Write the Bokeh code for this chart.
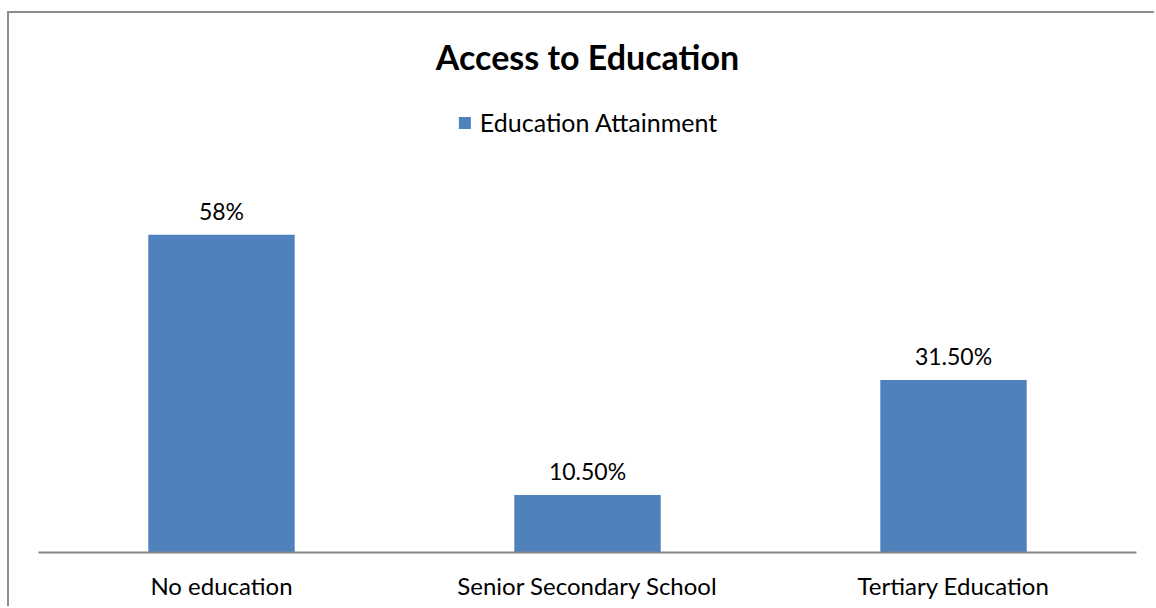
from bokeh.plotting import figure
from bokeh.models import ColumnDataSource, Legend, LegendItem, Range1d
from bokeh.embed import file_html
from bokeh.resources import INLINE
from bokeh.core.properties import value

categories = ["No education", "Senior Secondary School", "Tertiary Education"]
values = [58, 10.5, 31.5]
labels = ["58%", "10.50%", "31.50%"]
series_name = "Education Attainment"
title_text = "Access to Education"

FONT = "Lato"
BAR = "#4f81bd"
AXIS = "#868686"

src = ColumnDataSource(dict(cat=categories, val=values, lab=labels))

p = figure(x_range=categories, y_range=Range1d(0, 83.8), width=1147, height=595,
           output_backend="svg", toolbar_location=None,
           min_border_left=29, min_border_right=20, min_border_top=80,
           min_border_bottom=56, margin=(11, 0, 0, 7),
           styles={"border-left": "2px solid #8c8c8c", "border-top": "2px solid #8c8c8c"})

r = p.vbar(x="cat", top="val", width=0.4, source=src, fill_color=BAR, line_color=None)
p.text(x="cat", y="val", text="lab", source=src, text_align="center",
       text_baseline="bottom", y_offset=-10, text_font=value(FONT),
       text_font_size="23px", text_color="#000000")

p.title.text = title_text
p.title.align = "center"
p.title.text_font = FONT
p.title.text_font_size = "34px"
p.title.text_font_style = "bold"
p.title.text_color = "#000000"
p.title.standoff = 33

legend = Legend(items=[LegendItem(label=series_name, renderers=[r])],
                orientation="horizontal", location="top_center",
                label_text_font=FONT, label_text_font_size="25px",
                label_text_color="#000000",
                glyph_width=15, glyph_height=15, label_height=20, label_standoff=8,
                padding=0, spacing=0,
                border_line_color=None, background_fill_alpha=0, margin=14)
p.add_layout(legend)

p.yaxis.visible = False
p.xgrid.visible = False
p.ygrid.visible = False
p.outline_line_color = None
p.xaxis.axis_line_color = AXIS
p.xaxis.axis_line_width = 2
p.xaxis.major_tick_line_color = None
p.xaxis.minor_tick_line_color = None
p.xaxis.major_label_text_font = FONT
p.xaxis.major_label_text_font_size = "24px"
p.xaxis.major_label_text_color = "#000000"
p.xaxis.major_label_standoff = 12
p.x_range.range_padding = 0

open("out.html", "w").write(file_html(p, INLINE))
